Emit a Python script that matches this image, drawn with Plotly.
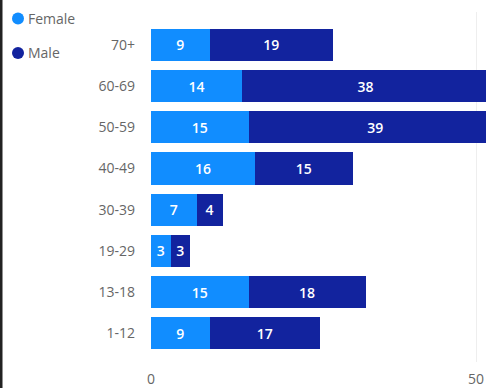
import plotly.graph_objects as go

categories = ["1-12", "13-18", "19-29", "30-39", "40-49", "50-59", "60-69", "70+"]
female = [9, 15, 3, 7, 16, 15, 14, 9]
male = [17, 18, 3, 4, 15, 39, 38, 19]
series_names = ["Female", "Male"]
series_colors = ["#118DFF", "#12239E"]
x_ticks = [0, 50]

W, H = 486, 388
ML, MR, MT, MB = 151, 0, 12, 26
PW, PH = W - ML - MR, H - MT - MB

def px_x(p):
    return (p - ML) / PW

def px_y(p):
    return (H - MB - p) / PH

fig = go.Figure()
for name, vals, col in zip(series_names, [female, male], series_colors):
    fig.add_trace(go.Bar(
        y=categories, x=vals, name=name, orientation="h",
        marker=dict(color=col, line=dict(width=0)),
        text=[str(v) for v in vals], textposition="inside",
        insidetextanchor="middle", textangle=0,
        textfont=dict(color="white", size=14, family="Open Sans", weight=600),
        showlegend=False, hoverinfo="skip",
    ))

shapes = []
annotations = []
legend_y = [18.5, 53]
for name, col, ly in zip(series_names, series_colors, legend_y):
    shapes.append(dict(type="circle", xref="paper", yref="paper",
                       xsizemode="pixel", ysizemode="pixel",
                       xanchor=px_x(18), yanchor=px_y(ly),
                       x0=-6, x1=6, y0=-6, y1=6,
                       fillcolor=col, line=dict(width=0)))
    annotations.append(dict(text=name, xref="paper", yref="paper",
                            x=px_x(26), y=px_y(ly), xanchor="left", yanchor="middle",
                            showarrow=False,
                            font=dict(family="Open Sans", size=14, color="#666666")))

# black left frame line
shapes.append(dict(type="line", xref="paper", yref="paper",
                   x0=px_x(1), x1=px_x(1), y0=px_y(H), y1=px_y(0),
                   line=dict(color="#222222", width=3)))

fig.update_layout(
    width=W, height=H,
    margin=dict(l=ML, r=MR, t=MT, b=MB),
    paper_bgcolor="white", plot_bgcolor="white",
    barmode="stack", bargap=0.22,
    shapes=shapes, annotations=annotations,
    font=dict(family="Open Sans", size=14, color="#666666"),
    xaxis=dict(range=[0, PW / 6.5], tickvals=x_ticks, showgrid=True,
               gridcolor="#EEEEEE", gridwidth=1, zeroline=False,
               showline=False, ticks="", ticklabelstandoff=7,
               tickfont=dict(size=14, color="#666666")),
    yaxis=dict(categoryorder="array", categoryarray=categories,
               range=[-0.70, 7.80], showgrid=False, zeroline=False,
               showline=False, ticks="", ticklabelstandoff=15,
               tickfont=dict(size=14, color="#666666")),
)

fig.write_html("out.html")
